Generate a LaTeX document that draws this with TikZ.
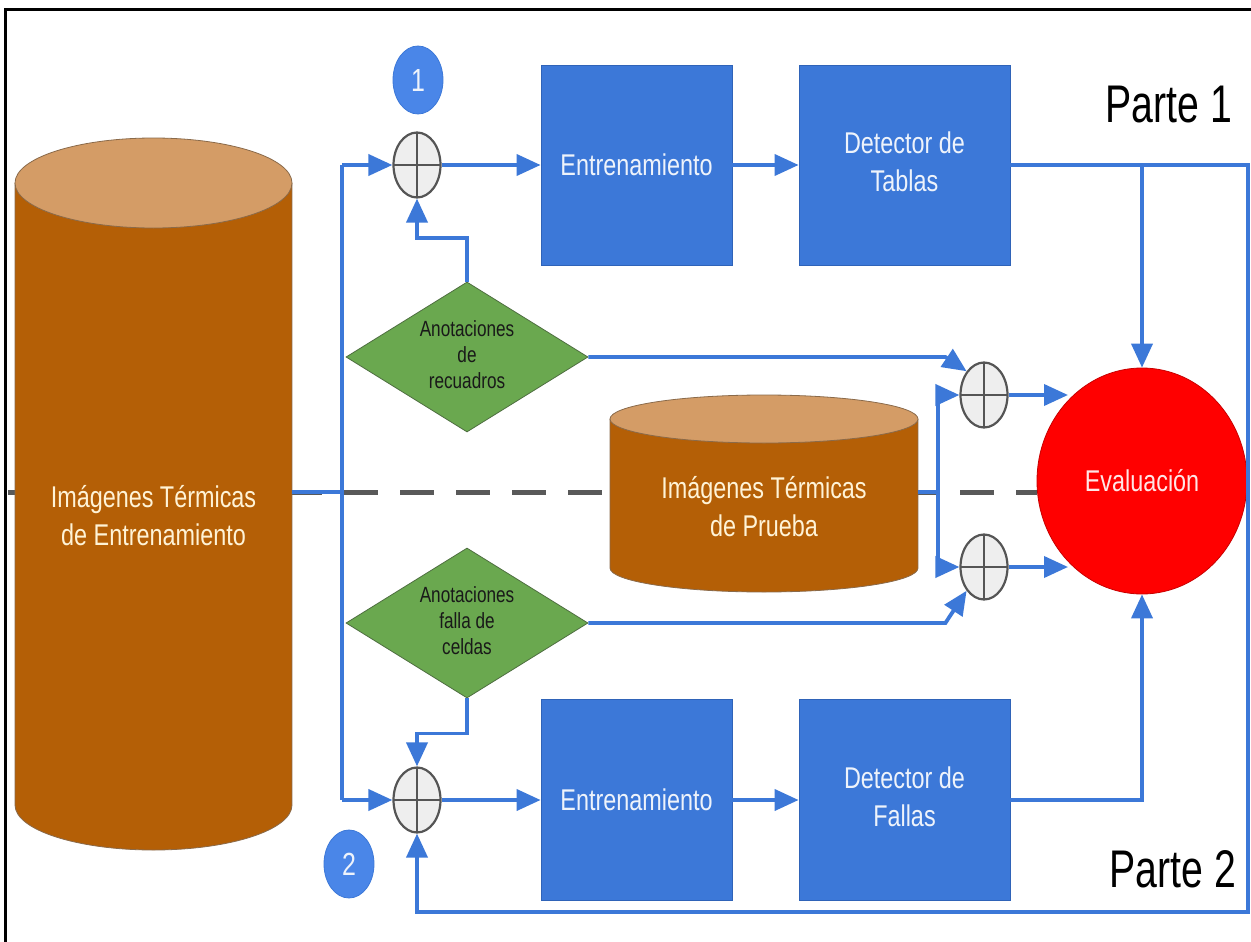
\documentclass[tikz,border=0pt]{standalone}
\usepackage{fontspec}
\setmainfont{Liberation Sans}
\usepackage{graphicx}
\usetikzlibrary{arrows.meta,shapes.geometric,calc,backgrounds}
\definecolor{gblue}{HTML}{3C78D8}
\definecolor{gblueD}{HTML}{2F63B8}
\definecolor{nblue}{HTML}{4A86E8}
\definecolor{boxtext}{HTML}{EEF3FB}
\definecolor{cylbody}{HTML}{B45F06}
\definecolor{cyltop}{HTML}{D49C66}
\definecolor{cylline}{HTML}{8A6A4A}
\definecolor{cyltext}{HTML}{FFF3D6}
\definecolor{dgreen}{HTML}{6AA84F}
\definecolor{dgreenline}{HTML}{4E6E40}
\definecolor{sumfill}{HTML}{EEEEEE}
\definecolor{sumline}{HTML}{555555}
\definecolor{evred}{HTML}{FF0000}
\definecolor{evline}{HTML}{C80000}
\definecolor{evtext}{HTML}{FFE6E6}
\definecolor{dashgray}{HTML}{595959}
\newcommand\sq[1]{\scalebox{0.78}[1]{#1}}
\newcommand\tl[1]{\begin{tabular}{@{}c@{}}#1\end{tabular}}
\begin{document}
\begin{tikzpicture}[x=1pt,y=-1pt,
  conn/.style={draw=gblue,line width=3.8pt},
  arr/.style={conn,-{Triangle[length=24pt,width=21pt]}},
  bluebox/.style={rectangle,draw=gblueD,line width=0.8pt,fill=gblue,inner sep=0pt,
    text=boxtext,font=\fontsize{30}{38}\selectfont},
  sumnode/.style={ellipse,draw=sumline,line width=2.2pt,fill=sumfill,inner sep=0pt,
    minimum width=47pt,minimum height=65pt,
    path picture={\draw[sumline,line width=2.2pt]
      (path picture bounding box.north) -- (path picture bounding box.south)
      (path picture bounding box.west) -- (path picture bounding box.east);}},
  dia/.style={diamond,shape aspect=1.6,draw=dgreenline,line width=0.8pt,fill=dgreen,inner sep=0pt,
    minimum width=242pt,minimum height=150pt,text=black!90,font=\fontsize{22}{26}\selectfont},
  numnode/.style={ellipse,fill=nblue,draw=gblue,line width=0.8pt,inner sep=0pt,
    minimum width=50pt,minimum height=68pt,text=boxtext,font=\fontsize{32}{36}\selectfont},
  cyltxt/.style={inner sep=0pt,text=cyltext,font=\fontsize{30}{38}\selectfont},
  parte/.style={anchor=base,inner sep=0pt,text=black,font=\fontsize{53}{60}\selectfont},
  dashline/.style={draw=dashgray,line width=5pt,dash pattern=on 34pt off 22pt}
]
\useasboundingbox (0,0) rectangle (1251,942);

% frame
\draw[black,line width=3pt] (5,942) -- (5,10) -- (1251,10);

% big cylinder
\fill[cylbody] (15,183) rectangle (292,805);
\fill[cylbody] (153.5,805) ellipse[x radius=138.5pt,y radius=45pt];
\draw[cylline,line width=0.8pt] (15,183) -- (15,805) arc[start angle=180,end angle=360,x radius=138.5pt,y radius=45pt] -- (292,183);
\draw[cylline,line width=0.8pt,fill=cyltop] (153.5,183) ellipse[x radius=138.5pt,y radius=45pt];
\node[cyltxt,minimum width=277pt] (cyl1) at (153.5,519) {\sq{\tl{Imágenes Térmicas\\de Entrenamiento}}};

% test cylinder
\fill[cylbody] (610,419) rectangle (918,568);
\fill[cylbody] (764,568) ellipse[x radius=154pt,y radius=24pt];
\draw[cylline,line width=0.8pt] (610,419) -- (610,568) arc[start angle=180,end angle=360,x radius=154pt,y radius=24pt] -- (918,419);
\draw[cylline,line width=0.8pt,fill=cyltop] (764,419) ellipse[x radius=154pt,y radius=24pt];
\node[cyltxt,minimum width=308pt] (cyl2) at (764,510) {\sq{\tl{Imágenes Térmicas\\de Prueba}}};

% evaluation
\node[ellipse,fill=evred,draw=evline,line width=0.8pt,inner sep=0pt,minimum width=210pt,minimum height=226pt,
  text=evtext,font=\fontsize{30}{38}\selectfont] (Ev) at (1142,481) {\sq{Evaluación}};

% dashed line behind
\coordinate (dl) at (8,492);
\begin{scope}[on background layer]
\fill[white] (0,0) rectangle (1251,942);
\draw[dashline] (dl) -- (Ev.west |- dl);
\end{scope}

% blue boxes
\node[bluebox,minimum width=191pt,minimum height=200pt] (E1) at (636.5,165) {\sq{Entrenamiento}};
\node[bluebox,minimum width=211pt,minimum height=200pt] (Tb) at (904.5,165) {\sq{\tl{Detector de\\Tablas}}};
\node[bluebox,minimum width=191pt,minimum height=201pt] (E2) at (636.5,800) {\sq{Entrenamiento}};
\node[bluebox,minimum width=211pt,minimum height=201pt] (Fa) at (904.5,800) {\sq{\tl{Detector de\\Fallas}}};

% sum nodes
\node[sumnode] (s1) at (417,165) {};
\node[sumnode] (s2) at (417,800) {};
\node[sumnode] (sE1) at (984,395) {};
\node[sumnode] (sE2) at (984,567) {};

% diamonds
\node[dia] (d1) at (467,357) {\sq{\tl{Anotaciones\\de\\recuadros}}};
\node[dia] (d2) at (467,623) {\sq{\tl{Anotaciones\\falla de\\celdas}}};

% numbers
\node[numnode] (n1) at (418,80) {\sq{1}};
\node[numnode] (n2) at (349,864) {\sq{2}};

% labels
\node[parte] (p1) at (1169,122) {\scalebox{0.74}[1]{Parte 1}};
\node[parte] (p2) at (1173,887) {\scalebox{0.74}[1]{Parte 2}};

% coordinates
\coordinate (vj) at (342,492);
\coordinate (vr) at (938,492);
\coordinate (rb) at (1248,912);
\coordinate (e1in) at (1068,395);
\coordinate (e2in) at (1068,567);

% connectors left trunk
\draw[conn] (cyl1.east |- vj) -- (vj);
\draw[conn] (s1.west -| vj) -- (s2.west -| vj);
\draw[arr] (s1.west -| vj) -- (s1.west);
\draw[arr] (s2.west -| vj) -- (s2.west);

% top chain
\draw[arr] (s1.east) -- (E1.west);
\draw[arr] (E1.east) -- (Tb.west);
\draw[arr] (d1.north) -- ++(0,-44) -| (s1.south);

% bottom chain
\draw[arr] (s2.east) -- (E2.west);
\draw[arr] (E2.east) -- (Fa.west);
\draw[arr] (d2.south) -- ++(0,35) -| (s2.north);

% outputs
\draw[arr] (Tb.east) -| (rb) -| (s2.south);
\draw[arr] (Tb.east -| Ev.north) -- (Ev.north);
\draw[arr] (Fa.east) -| (Ev.south);

% annotations to evaluation sums
\draw[arr] (d1.east) -- ($(d1.east -| sE1.west)+(-14,0)$) -- (sE1.north west);
\draw[arr] (d2.east) -- ($(d2.east -| sE2.west)+(-14,0)$) -- (sE2.south west);

% test images to sums
\draw[conn] (cyl2.east |- vr) -- (vr);
\draw[arr] (vr) |- (sE1.west);
\draw[arr] (vr) |- (sE2.west);

% sums to evaluation
\draw[arr] (sE1.east) -- (e1in);
\draw[arr] (sE2.east) -- (e2in);
\end{tikzpicture}
\end{document}
